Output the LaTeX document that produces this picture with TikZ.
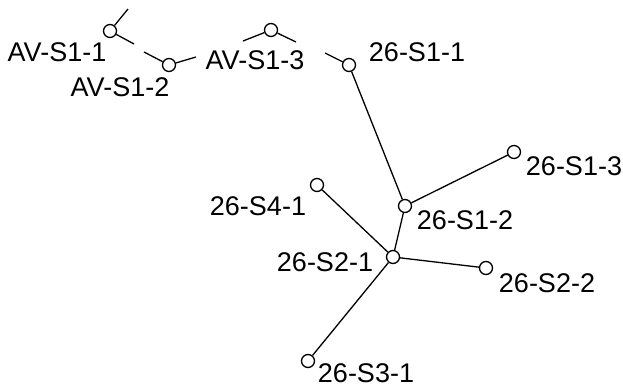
\documentclass[tikz,border=0pt]{standalone}
\usepackage{fontspec}
\setmainfont{Liberation Sans}
\begin{document}
\begin{tikzpicture}[x=1pt,y=-1pt,
  site/.style={circle,draw,line width=1.3pt,minimum size=13pt,inner sep=0pt,fill=white},
  lbl/.style={inner sep=0pt,font=\fontsize{27}{30}\selectfont},
  link/.style={line width=1.3pt}]
\useasboundingbox (0,0) rectangle (623,387);
% sites
\node[site] (a1) at (110,31) {};
\node[site] (a2) at (169,65) {};
\node[site] (a3) at (271,30) {};
\node[site] (s11) at (349,65) {};
\node[site] (s12) at (405,206) {};
\node[site] (s13) at (514,152) {};
\node[site] (s41) at (317,185) {};
\node[site] (s21) at (393,257) {};
\node[site] (s22) at (486,268) {};
\node[site] (s31) at (308,361) {};
% labels
\node[lbl] (la1) at (57,52) {AV-S1-1};
\node[lbl] (la2) at (120,87) {AV-S1-2};
\node[lbl] (la3) at (255,60) {AV-S1-3};
\node[lbl] (l11) at (417,52) {26-S1-1};
\node[lbl] (l13) at (574,166) {26-S1-3};
\node[lbl] (l41) at (258,206) {26-S4-1};
\node[lbl] (l12) at (465,220) {26-S1-2};
\node[lbl] (l21) at (325,262) {26-S2-1};
\node[lbl] (l22) at (547,283) {26-S2-2};
\node[lbl] (l31) at (366,373) {26-S3-1};
% free ends of the short stubs
\coordinate (e1) at (128,9);
\coordinate (e2) at (134,44);
\coordinate (e3) at (144,52);
\coordinate (e4) at (196,57);
\coordinate (e5) at (243,41);
\coordinate (e6) at (296,42);
\coordinate (e7) at (325,53);
% stubs
\draw[link] (a1) -- (e1);
\draw[link] (a1) -- (e2);
\draw[link] (e3) -- (a2);
\draw[link] (a2) -- (e4);
\draw[link] (e5) -- (a3);
\draw[link] (a3) -- (e6);
\draw[link] (e7) -- (s11);
% tree
\draw[link] (s11) -- (s12);
\draw[link] (s12) -- (s13);
\draw[link] (s12) -- (s21);
\draw[link] (s21) -- (s41);
\draw[link] (s21) -- (s22);
\draw[link] (s21) -- (s31);
\end{tikzpicture}
\end{document}
